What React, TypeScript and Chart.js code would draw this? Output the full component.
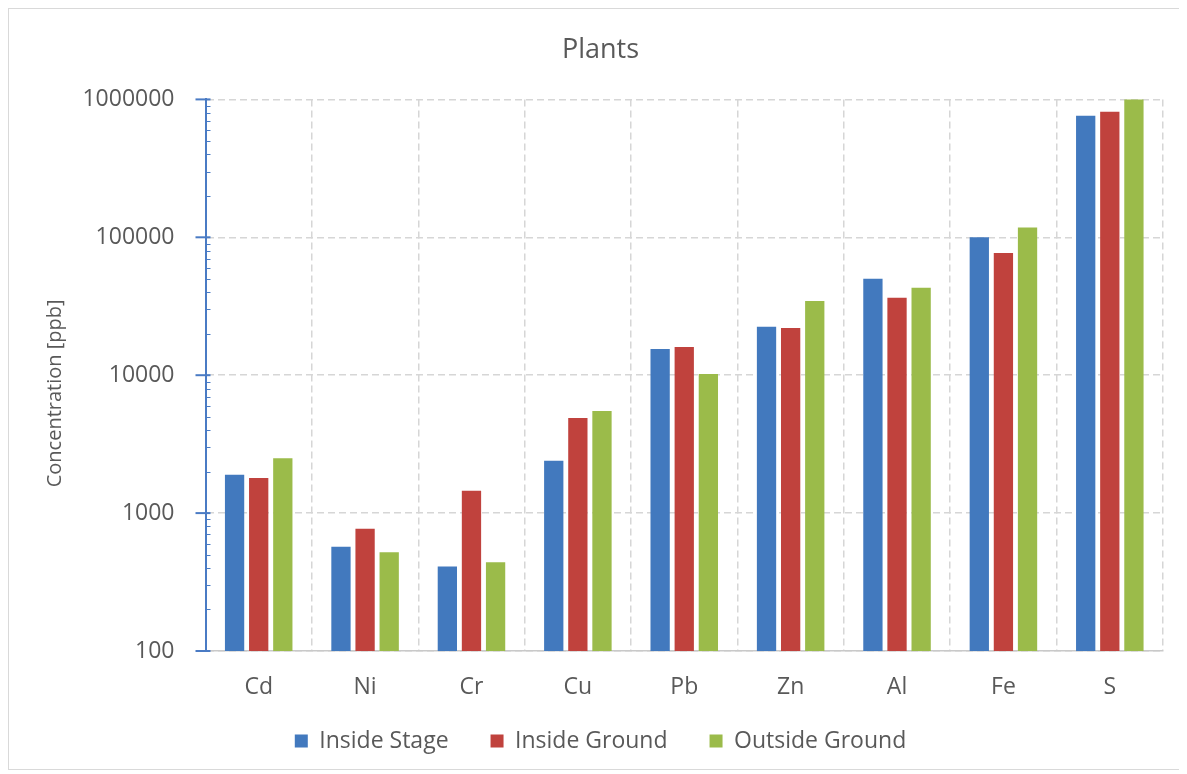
import React, { useEffect, useRef } from "react";
import { Chart, registerables } from "chart.js";

Chart.register(...registerables);

const categories = ["Cd", "Ni", "Cr", "Cu", "Pb", "Zn", "Al", "Fe", "S"];
const insideStage = [1900, 570, 410, 2400, 15500, 22500, 50000, 100000, 760000];
const insideGround = [1800, 770, 1450, 4900, 16000, 22000, 36500, 77000, 815000];
const outsideGround = [2500, 520, 440, 5500, 10200, 34500, 43000, 118000, 1020000];
const seriesNames = ["Inside Stage", "Inside Ground", "Outside Ground"];
const yTickValues = [100, 1000, 10000, 100000, 1000000];
const chartTitle = "Plants";
const yAxisTitle = "Concentration [ppb]";

const FONT = "'Open Sans', sans-serif";
const TEXT = "#595959";
const AXIS_BLUE = "#4a7bc4";
const GRID = "#d6d6d6";
const COLORS = ["#4279be", "#c0423d", "#9bbb4a"];

export default function App() {
  const ref = useRef<HTMLCanvasElement>(null);

  useEffect(() => {
    if (!ref.current) return;

    const axisDecor = {
      id: "axisDecor",
      afterLayout(chart: any) {
        const lg = chart.legend;
        if (lg) {
          lg.top -= 15.5;
          lg.height = 80;
          lg.bottom = lg.top + 80;
        }
      },
      afterDraw(chart: any) {
        const { ctx, chartArea } = chart;
        const y = chart.scales.y;
        const x0 = chartArea.left;
        ctx.save();
        ctx.strokeStyle = AXIS_BLUE;
        ctx.lineWidth = 1;
        for (let d = 0; d < yTickValues.length - 1; d++) {
          for (let k = 2; k <= 9; k++) {
            const py = Math.round(y.getPixelForValue(yTickValues[d] * k)) + 0.5;
            ctx.beginPath();
            ctx.moveTo(x0, py);
            ctx.lineTo(x0 + 5, py);
            ctx.stroke();
          }
        }
        ctx.lineWidth = 2;
        yTickValues.forEach((v) => {
          const py = y.getPixelForValue(v);
          ctx.beginPath();
          ctx.moveTo(x0 - 10, py);
          ctx.lineTo(x0 + 5, py);
          ctx.stroke();
        });
        ctx.fillStyle = TEXT;
        ctx.font = `20px ${FONT}`;
        ctx.textAlign = "center";
        ctx.textBaseline = "middle";
        ctx.translate(46, chartArea.top + (chartArea.bottom - chartArea.top) * 0.533);
        ctx.rotate(-Math.PI / 2);
        ctx.fillText(yAxisTitle, 0, 0);
        ctx.restore();
      },
    };

    const chart = new Chart(ref.current, {
      type: "bar",
      data: {
        labels: categories,
        datasets: [
          { label: seriesNames[0], data: insideStage, backgroundColor: COLORS[0], borderWidth: 0 },
          { label: seriesNames[1], data: insideGround, backgroundColor: COLORS[1], borderWidth: 0 },
          { label: seriesNames[2], data: outsideGround, backgroundColor: COLORS[2], borderWidth: 0 },
        ],
      },
      options: {
        animation: false,
        responsive: true,
        maintainAspectRatio: false,
        datasets: {
          bar: { categoryPercentage: 0.68, barPercentage: 0.8 },
        },
        layout: { padding: { left: 29, right: 16, top: 0, bottom: 21 } },
        plugins: {
          title: {
            display: true,
            text: chartTitle,
            color: TEXT,
            font: { family: FONT, size: 27, weight: "normal" },
            padding: { top: 25, bottom: 33 },
          },
          legend: {
            position: "bottom",
            maxHeight: 45,
            labels: {
              color: TEXT,
              font: { family: FONT, size: 23 },
              boxWidth: 13,
              boxHeight: 13,
              padding: 42,
            },
          },
          tooltip: { enabled: false },
        },
        scales: {
          x: {
            afterFit: (scale: any) => {
              scale.height = 52;
            },
            grid: {
              display: true,
              drawTicks: false,
              color: GRID,
              lineWidth: 1.5,
              offset: true,
            },
            border: { display: true, color: "#c9c9c9", width: 1.5, dash: [7, 4] },
            ticks: {
              color: TEXT,
              font: { family: FONT, size: 23 },
              padding: 23,
              maxRotation: 0,
              autoSkip: false,
            },
          },
          y: {
            type: "logarithmic",
            min: 100,
            max: 1000000,
            afterBuildTicks: (scale: any) => {
              scale.ticks = yTickValues.map((v) => ({ value: v }));
            },
            afterFit: (scale: any) => {
              scale.width = 167.5;
            },
            grid: {
              display: true,
              drawTicks: false,
              color: GRID,
              lineWidth: 1.5,
            },
            border: { display: true, color: AXIS_BLUE, width: 2, dash: [7, 4] },
            ticks: {
              color: TEXT,
              font: { family: FONT, size: 23 },
              padding: 31,
              callback: (v: any) => String(v),
            },
          },
        },
      },
      plugins: [axisDecor],
    });

    return () => chart.destroy();
  }, []);

  return (
    <div style={{ width: 1170, height: 760, border: "1px solid #d9d9d9", position: "relative", background: "#fff" }}>
      <canvas ref={ref} />
    </div>
  );
}
